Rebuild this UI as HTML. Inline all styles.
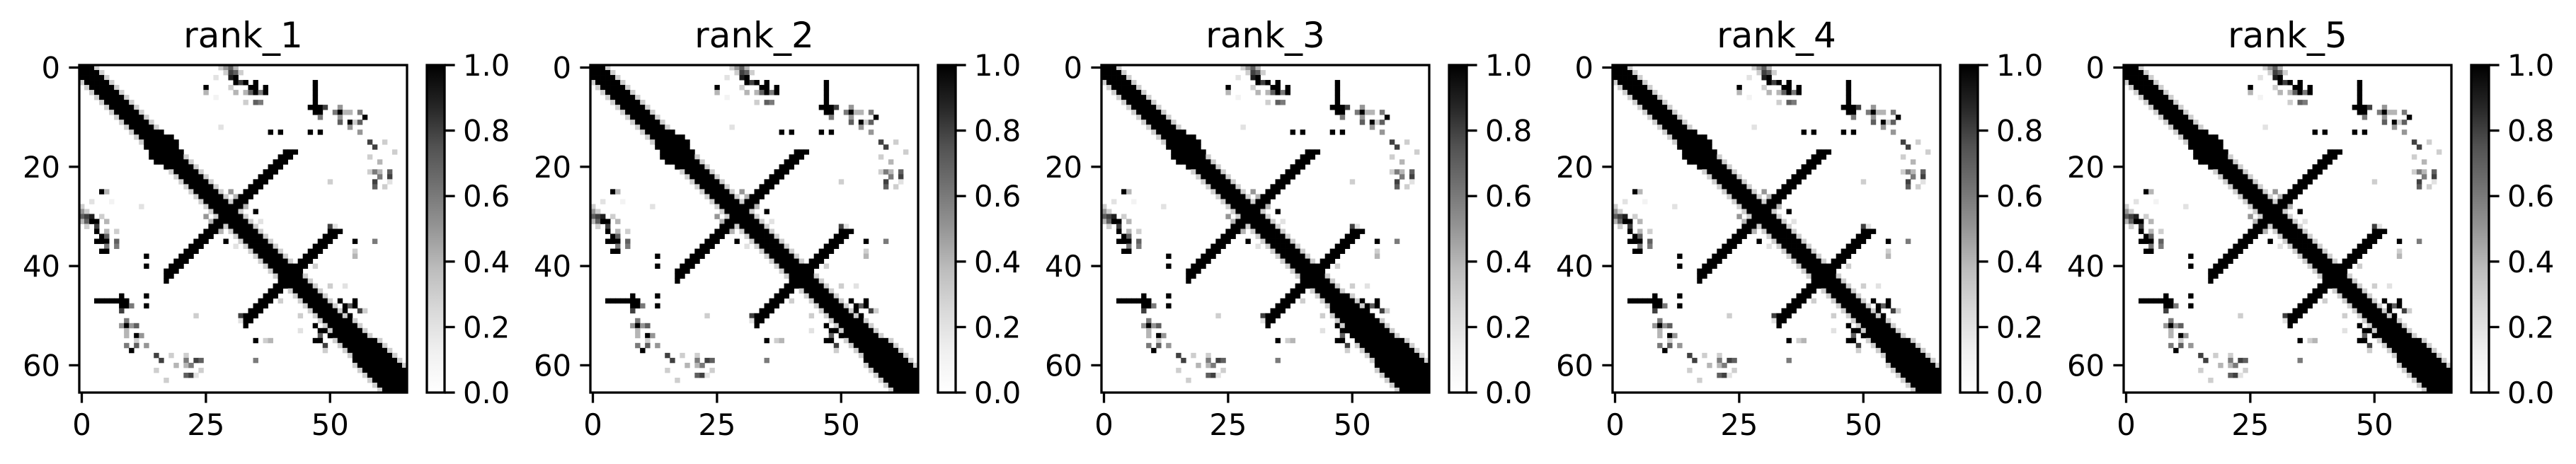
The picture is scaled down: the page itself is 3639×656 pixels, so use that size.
<!DOCTYPE html>
<html><head><meta charset="utf-8"><style>
html,body{margin:0;padding:0;background:#fff;}
svg{display:block;}
text{font-family:"DejaVu Sans","Liberation Sans",sans-serif;fill:#000;}
</style></head><body>
<svg id="fig" width="3639" height="656" viewBox="0 0 3639 656" xmlns="http://www.w3.org/2000/svg">
<defs>
<linearGradient id="greys" x1="0" y1="1" x2="0" y2="0">
<stop offset="0" stop-color="#ffffff"/><stop offset="0.125" stop-color="#f0f0f0"/><stop offset="0.25" stop-color="#d9d9d9"/><stop offset="0.375" stop-color="#bdbdbd"/><stop offset="0.5" stop-color="#969696"/><stop offset="0.625" stop-color="#737373"/><stop offset="0.75" stop-color="#525252"/><stop offset="0.875" stop-color="#252525"/><stop offset="1" stop-color="#000000"/>
</linearGradient>
</defs>
</svg>
<script>
const N = 66;
const panelTitles = ["rank_1","rank_2","rank_3","rank_4","rank_5"];
const rankBandBoost = [0,0,1,0,0];
const xTicks = [0,25,50];
const yTicks = [0,20,40,60];
const cbTicks = [0.0,0.2,0.4,0.6,0.8,1.0];
// diagonal band half-width per row
const bandHalfWidth = [2,2,2,2,2,2,2,2,2,2,2,2,2,2,2,2,2,2,2,2,2,2,2,2,2,2,2,2,2,2,2,2,2,2,2,2,2,2,2,2,2,2,2,2,2,2,2,2,2,2,2,3,3,3,3,4,4,4,4,4,4,4,4,4,4,4];
// anti-diagonal arms: [rowStart,rowEnd,sumMin,sumMax]
const arms = [[17,29,58,60],[33,42,83,85]];
// extra contacts [i,j,value] (upper triangle, mirrored)
const contacts = [
[0,28,0.3],[0,29,0.5],[0,30,0.7],[0,31,0.4],[1,29,0.3],[1,30,0.8],[1,31,0.7],[1,32,0.3],[2,30,0.9],[2,31,1],[3,31,1],[3,32,0.8],[3,33,1],[3,35,1],
[4,30,0.3],[4,25,1],[4,35,1],[4,37,1],[5,25,0.4],[5,31,0.4],[5,33,0.4],[5,35,1],[5,36,0.6],[5,37,1],[4,34,1],[5,34,0.7],
[3,47,1],[4,47,1],[5,47,1],[6,47,1],[7,47,1],[8,46,1],[8,47,1],[8,48,1],[8,49,0.8],[8,52,0.5],[9,47,1],[9,48,1],[9,51,0.6],[9,52,1],[9,53,0.4],[9,54,0.4],
[10,48,0.6],[10,52,0.5],[11,52,0.7],[11,54,1],[11,55,0.3],[12,54,0.5],[13,38,1],[13,40,1],[13,46,1],[13,48,1],
[7,33,0.3],[7,35,0.7],[7,36,0.6],[14,17,1],[14,18,1],[15,18,1],[15,19,1],[16,19,1],[17,20,1],[13,16,1],
[15,58,0.8],[15,61,0.3],[18,58,0.3],[21,58,0.3],[21,59,0.6],[21,60,0.4],[21,62,0.7],[23,59,0.8],[23,62,0.2],[23,50,0.3],
[32,50,0.8],[32,51,0.2],[35,55,1],[35,59,0.6],[37,55,0.3],[47,52,1],[47,55,1],[48,55,1],[49,56,0.8],[49,57,0.3],
[9,56,0.6],[10,57,1],[11,56,0.7],[13,56,0.5],[16,59,0.8],[19,60,0.4],[22,60,0.6],[22,62,0.8],[24,59,0.7],[24,61,0.3],[17,63,0.3],[38,55,0.4],
[25,30,0.5],[26,31,0.4],[27,31,1],[28,33,0.4],[29,35,1],[31,36,0.2],[48,53,1],[49,53,1],[50,54,1],[48,54,0.7],
[2,27,0.2],[6,27,0.1],[12,28,0.2],[40,47,0.3],[44,50,0.3],[44,53,0.2]
];
const greyStops = [255,240,217,189,150,115,82,37,0];
function grey(v){v=Math.max(0,Math.min(1,v));const t=v*8,k=Math.min(7,Math.floor(t)),f=t-k;const g=Math.round(greyStops[k]+(greyStops[k+1]-greyStops[k])*f);return `rgb(${g},${g},${g})`;}
const AX0=112, AY0=92, AW=463, AH=463, PSTEP=722, CBX=603, CBW=25;
function xScale(j,p){return AX0+p*PSTEP+j*AW/N;}
function yScale(i){return AY0+i*AH/N;}
function cbScale(v){return AY0+AH-v*AH;}
function buildMatrix(p){
  const M=[];for(let i=0;i<N;i++){M.push(new Array(N).fill(0));}
  const set=(i,j,v)=>{if(i<0||j<0||i>=N||j>=N)return;M[i][j]=Math.max(M[i][j],v);M[j][i]=Math.max(M[j][i],v);};
  for(let i=0;i<N;i++){const hw=bandHalfWidth[i]+(rankBandBoost[p]&&i>45?1:0);
    for(let d=0;d<=hw+1;d++){set(i,i+d,d<=hw?1:0.3);}}
  arms.forEach(a=>{for(let i=a[0];i<=a[1];i++){for(let s=a[2];s<=a[3];s++){const j=s-i;if(j>i)set(i,j,1);}}});
  contacts.forEach(c=>set(c[0],c[1],c[2]));
  return M;
}
const svg=document.getElementById('fig');
const NS='http://www.w3.org/2000/svg';
function mk(tag,attrs,parent){const e=document.createElementNS(NS,tag);for(const k in attrs)e.setAttribute(k,attrs[k]);parent.appendChild(e);return e;}
panelTitles.forEach((title,p)=>{
  const g=mk('g',{},svg);
  
  
  const hm=mk('g',{},g);
  
  
  const M=buildMatrix(p);
  const cw=AW/N;
  for(let i=0;i<N;i++)for(let j=0;j<N;j++){const v=M[i][j];if(v<=0)continue;
    const r=mk('rect',{x:xScale(j,p),y:yScale(i),width:cw+0.4,height:cw+0.4,fill:grey(v)},hm);
    
    }
  const frame=mk('rect',{x:xScale(0,p),y:AY0,width:AW,height:AH,fill:'none',stroke:'#000','stroke-width':3.3},g);
  
  
  const t=mk('text',{x:xScale(N/2,p),y:67,'font-size':50,'text-anchor':'middle'},g);t.textContent=title;
  
  
  xTicks.forEach(v=>{const x=xScale(v+0.5,p);
    mk('line',{x1:x,x2:x,y1:AY0+AH,y2:AY0+AH+14.6,stroke:'#000','stroke-width':3.3},g);
    const l=mk('text',{x:x,y:AY0+AH+60,'font-size':41.7,'text-anchor':'middle'},g);l.textContent=v;
    
    });
  yTicks.forEach(v=>{const y=yScale(v+0.5);
    mk('line',{x1:xScale(0,p)-14.6,x2:xScale(0,p),y1:y,y2:y,stroke:'#000','stroke-width':3.3},g);
    const l=mk('text',{x:xScale(0,p)-27,y:y+15,'font-size':41.7,'text-anchor':'end'},g);l.textContent=v;
    
    });
  const cbx=CBX+p*PSTEP;
  const cb=mk('rect',{x:cbx,y:AY0,width:CBW,height:AH,fill:'url(#greys)',stroke:'#000','stroke-width':3.3},g);
  
  
  cbTicks.forEach(v=>{const y=cbScale(v);
    mk('line',{x1:cbx+CBW,x2:cbx+CBW+14.6,y1:y,y2:y,stroke:'#000','stroke-width':3.3},g);
    const l=mk('text',{x:cbx+CBW+26,y:y+15,'font-size':41.7},g);l.textContent=v.toFixed(1);
    
    });
});
</script>
</body></html>
